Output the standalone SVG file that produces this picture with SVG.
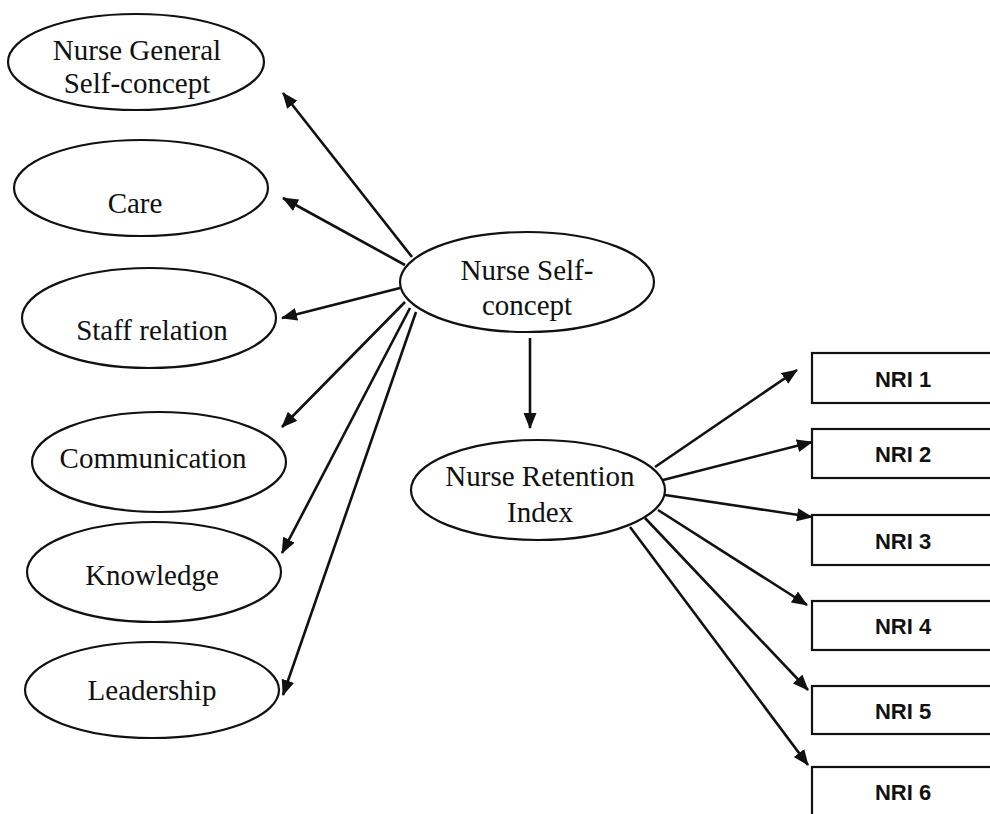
<svg xmlns="http://www.w3.org/2000/svg" width="990" height="814" viewBox="0 0 990 814">
<style>
.node ellipse{fill:#fff;stroke:#111;stroke-width:2.2}
.node rect{fill:#fff;stroke:#111;stroke-width:2.2}
.lbl{font-family:"Liberation Serif","Times New Roman",serif;font-size:29px;fill:#111;text-anchor:middle}
.nri{font-family:"Liberation Sans",Arial,sans-serif;font-weight:bold;font-size:22px;fill:#111;text-anchor:middle}
.conn line{stroke:#111;stroke-width:2.6;marker-end:url(#ah)}
</style>
<defs>
<marker id="ah" markerUnits="userSpaceOnUse" markerWidth="18" markerHeight="14" refX="15" refY="6.5" orient="auto">
<path d="M0,0 L16,6.5 L0,13 z" fill="#111"/>
</marker>
</defs>
<rect width="990" height="814" fill="#fff"/>
<g id="connectors" class="conn">
<line x1="412" y1="257" x2="283" y2="93"/>
<line x1="405" y1="265" x2="283" y2="198"/>
<line x1="400" y1="288" x2="282" y2="318"/>
<line x1="405" y1="302" x2="282" y2="427"/>
<line x1="410" y1="308" x2="282" y2="553"/>
<line x1="416" y1="312" x2="283" y2="695"/>
<line x1="530" y1="338" x2="530" y2="428"/>
<line x1="655" y1="467" x2="797" y2="370"/>
<line x1="663" y1="480" x2="812" y2="442"/>
<line x1="665" y1="495" x2="812" y2="517"/>
<line x1="658" y1="510" x2="807" y2="605"/>
<line x1="645" y1="518" x2="808" y2="690"/>
<line x1="630" y1="527" x2="808" y2="765"/>
</g>
<g id="general" class="node"><ellipse cx="136" cy="62" rx="128" ry="48"/><text class="lbl" x="137" y="60">Nurse General</text><text class="lbl" x="137" y="93">Self-concept</text></g>
<g id="care" class="node"><ellipse cx="141" cy="188" rx="127" ry="48"/><text class="lbl" x="135" y="213">Care</text></g>
<g id="staff" class="node"><ellipse cx="149" cy="318" rx="127" ry="50"/><text class="lbl" x="152" y="340">Staff relation</text></g>
<g id="communication" class="node"><ellipse cx="159" cy="462" rx="127" ry="50"/><text class="lbl" x="153" y="468">Communication</text></g>
<g id="knowledge" class="node"><ellipse cx="154" cy="572" rx="127" ry="50"/><text class="lbl" x="152" y="585">Knowledge</text></g>
<g id="leadership" class="node"><ellipse cx="152" cy="690" rx="127" ry="48"/><text class="lbl" x="152" y="700">Leadership</text></g>
<g id="selfconcept" class="node"><ellipse cx="527" cy="282" rx="127" ry="50"/><text class="lbl" x="527" y="280">Nurse Self-</text><text class="lbl" x="527" y="315">concept</text></g>
<g id="retention" class="node"><ellipse cx="538" cy="490" rx="127" ry="50"/><text class="lbl" x="540" y="486">Nurse Retention</text><text class="lbl" x="540" y="522">Index</text></g>
<g id="nri1" class="node"><rect x="812" y="353" width="200" height="50"/><text class="nri" x="903" y="387">NRI 1</text></g>
<g id="nri2" class="node"><rect x="812" y="429" width="200" height="49"/><text class="nri" x="903" y="462">NRI 2</text></g>
<g id="nri3" class="node"><rect x="812" y="515" width="200" height="50"/><text class="nri" x="903" y="549">NRI 3</text></g>
<g id="nri4" class="node"><rect x="812" y="601" width="200" height="49"/><text class="nri" x="903" y="634">NRI 4</text></g>
<g id="nri5" class="node"><rect x="812" y="686" width="200" height="48"/><text class="nri" x="903" y="719">NRI 5</text></g>
<g id="nri6" class="node"><rect x="812" y="767" width="200" height="60"/><text class="nri" x="903" y="800">NRI 6</text></g>
</svg>
